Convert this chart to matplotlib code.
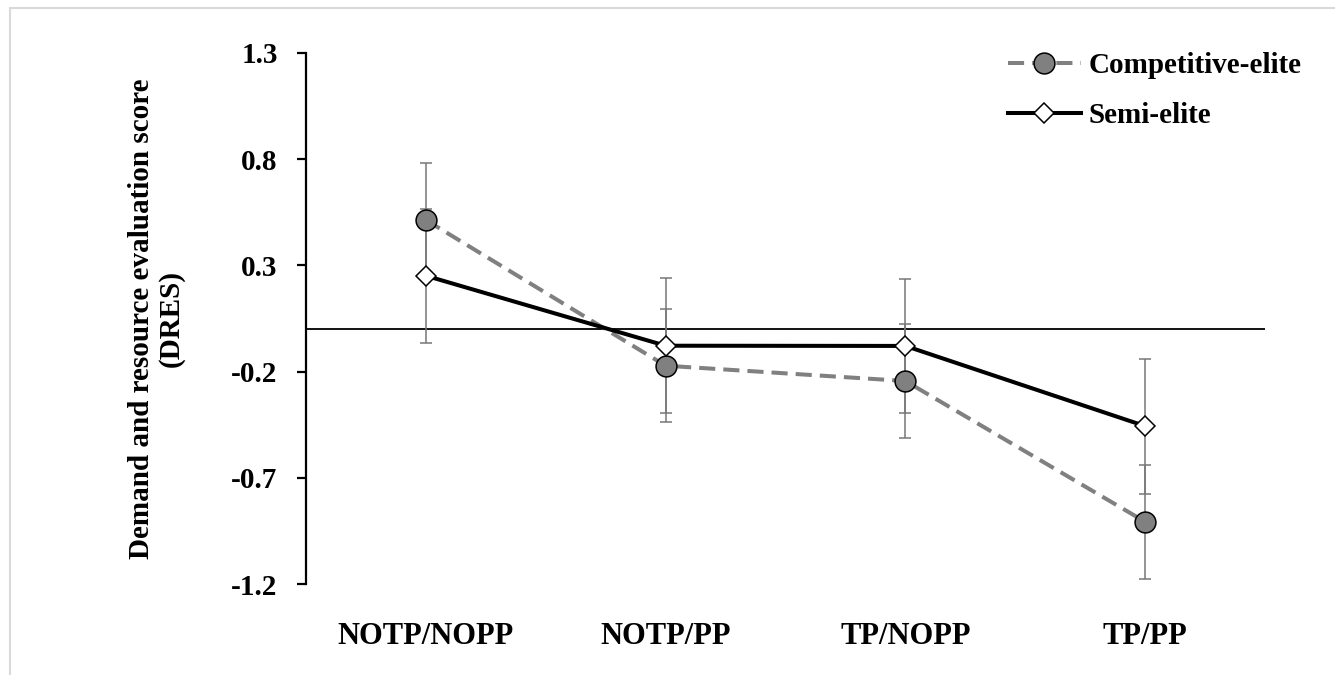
import matplotlib
matplotlib.use('Agg')
import matplotlib.pyplot as plt
from matplotlib.patches import Rectangle

# Данные графика
categories = ['NOTP/NOPP', 'NOTP/PP', 'TP/NOPP', 'TP/PP']
competitive = [0.513, -0.172, -0.244, -0.906]
competitive_err = [0.267, 0.267, 0.267, 0.267]
semi = [0.251, -0.078, -0.079, -0.456]
semi_err = [0.316, 0.317, 0.317, 0.317]
y_ticks = [-1.2, -0.7, -0.2, 0.3, 0.8, 1.3]

plt.rcParams['font.family'] = ['Liberation Serif', 'DejaVu Serif']
plt.rcParams['font.weight'] = 'bold'

fig = plt.figure(figsize=(13.35, 6.75), dpi=100)
ax = fig.add_axes([306 / 1335, 1 - 584.3 / 675, (1265 - 306) / 1335, (584.3 - 52.7) / 675])

x = list(range(len(categories)))

# Планки погрешностей
ax.errorbar(x, competitive, yerr=competitive_err, fmt='none', ecolor='#777777',
            elinewidth=1.1, capsize=4.3, capthick=1.1, zorder=2)
ax.errorbar(x, semi, yerr=semi_err, fmt='none', ecolor='#777777',
            elinewidth=1.1, capsize=4.3, capthick=1.1, zorder=2)

# Линия нуля
ax.axhline(0, color='black', lw=1.3, zorder=1)

# Серии
ax.plot(x, competitive, color='#808080', lw=2.9, dashes=(4, 2),
        marker='o', markersize=15, markerfacecolor='#808080',
        markeredgecolor='black', markeredgewidth=1.1, label='Competitive-elite', zorder=3)
ax.plot(x, semi, color='black', lw=2.9, marker='D', markersize=10,
        markerfacecolor='white', markeredgecolor='black', markeredgewidth=1.1,
        label='Semi-elite', zorder=4)

ax.set_xlim(-0.5, 3.5)
ax.set_ylim(-1.2, 1.3)
ax.set_yticks(y_ticks)
ax.set_yticklabels([f'{t:.1f}' for t in y_ticks])
ax.set_xticks(x)
ax.set_xticklabels(categories)

for s in ['top', 'right', 'bottom']:
    ax.spines[s].set_visible(False)
ax.spines['left'].set_linewidth(1.6)
ax.tick_params(axis='y', length=6.5, width=1.6, pad=14, labelsize=21)
ax.tick_params(axis='x', length=0, pad=27, labelsize=22)

ax.set_ylabel('Demand and resource evaluation score\n(DRES)', fontsize=21,
              fontweight='bold', linespacing=1.15)
ax.yaxis.set_label_coords(-0.126, 0.5)

ax.legend(loc='upper left', bbox_to_anchor=(1008 / 1335, 1 - 52 / 675),
          bbox_transform=fig.transFigure, frameon=False, fontsize=21,
          borderpad=0, borderaxespad=0, labelspacing=0.8, handlelength=2.5,
          handletextpad=0.25)

# Рамка рисунка
fig.patches.append(Rectangle((10 / 1335, -0.1), 1.2, 1 - 8 / 675 + 0.1,
                             transform=fig.transFigure, fill=False,
                             edgecolor='#d9d9d9', lw=1.5))

plt.savefig('out.png')
plt.close()
